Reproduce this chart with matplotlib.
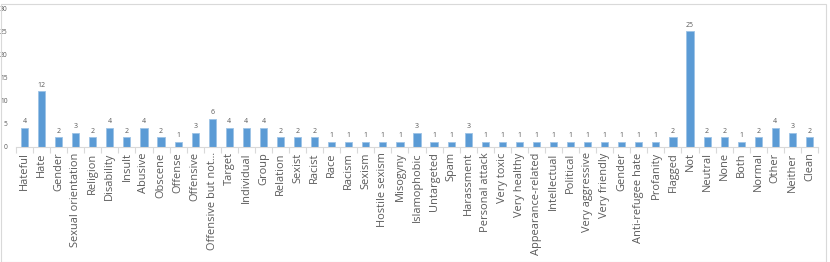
import numpy as np
import matplotlib.pyplot as plt
from matplotlib.patches import Rectangle

categories = ["Hateful", "Hate", "Gender", "Sexual orientation", "Religion", "Disability",
              "Insult", "Abusive", "Obscene", "Offense", "Offensive", "Offensive but not...",
              "Target", "Individual", "Group", "Relation", "Sexist", "Racist", "Race",
              "Racism", "Sexism", "Hostile sexism", "Misogyny", "Islamophobic", "Untargeted",
              "Spam", "Harassment", "Personal attack", "Very toxic", "Very healthy",
              "Appearance-related", "Intellectual", "Political", "Very aggressive",
              "Very friendly", "Gender", "Anti-refugee hate", "Profanity", "Flagged", "Not",
              "Neutral", "None", "Both", "Normal", "Other", "Neither", "Clean"]
counts = [4, 12, 2, 3, 2, 4, 2, 4, 2, 1, 3, 6, 4, 4, 4, 2, 2, 2, 1, 1, 1, 1, 1, 3, 1,
          1, 3, 1, 1, 1, 1, 1, 1, 1, 1, 1, 1, 1, 2, 25, 2, 2, 1, 2, 4, 3, 2]

plt.rcParams['font.family'] = ['Open Sans', 'DejaVu Sans']
grey = "#595959"

fig = plt.figure(figsize=(8.3, 2.62), dpi=100)
ax = fig.add_axes([16 / 830, 1 - 146.7 / 262, 802 / 830, 138.4 / 262])

x = np.arange(len(categories))
bars = ax.bar(x, counts, width=0.42, color="#5B9BD5", edgecolor="#9DC3E6", linewidth=0.6)
for xi, v in zip(x, counts):
    ax.text(xi, v + 0.6, str(v), ha="center", va="bottom", fontsize=5, color=grey)

ax.set_xlim(-0.5, len(categories) - 0.5)
ax.set_ylim(0, 30)
ax.set_yticks(range(0, 31, 5))
ax.tick_params(axis="y", length=0, labelsize=4.8, labelcolor=grey, pad=6)
ax.set_xticks(x)
ax.set_xticklabels(categories, rotation=90, fontsize=7.9, color=grey)
ax.tick_params(axis="x", length=0, pad=4)
ax.set_xticks(np.arange(-0.5, len(categories), 1), minor=True)
ax.tick_params(axis="x", which="minor", length=4, color="#D9D9D9", width=0.8)

for s in ["top", "right", "left"]:
    ax.spines[s].set_visible(False)
ax.spines["bottom"].set_color("#D9D9D9")
ax.spines["bottom"].set_linewidth(0.8)

fig.patches.append(Rectangle((0.5 / 830, 0.5 / 262), 825 / 830, 258 / 262,
                             transform=fig.transFigure, fill=False,
                             edgecolor="#D9D9D9", linewidth=0.8))

fig.savefig("out.png", dpi=100)
